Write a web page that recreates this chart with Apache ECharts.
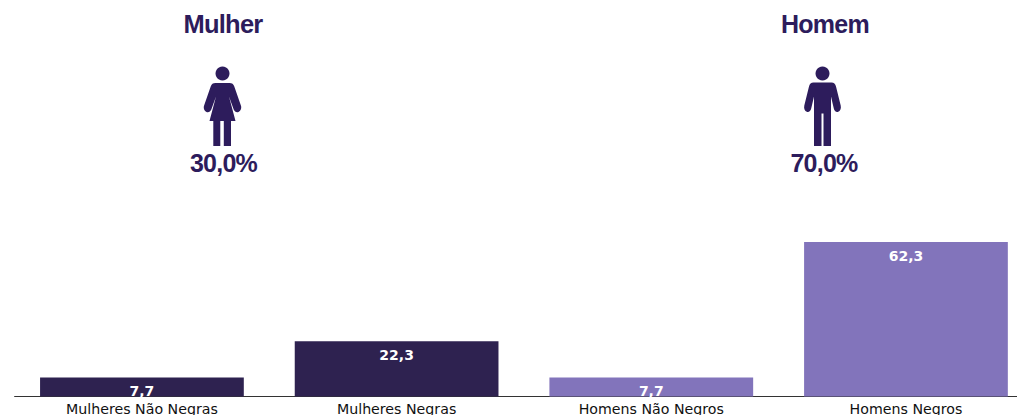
<!DOCTYPE html>
<html><head><meta charset="utf-8">
<style>html,body{margin:0;padding:0;background:#fff}#c{width:1017px;height:415px}
text[style*="Liberation"]{letter-spacing:-0.75px}</style>
<script src="https://cdn.jsdelivr.net/npm/echarts@6/dist/echarts.min.js"></script></head>
<body><div id="c"></div>
<script>
const categories = ['Mulheres Não Negras','Mulheres Negras','Homens Não Negros','Homens Negros'];
const values = [7.7,22.3,7.7,62.3];
const genderLabels = ['Mulher','Homem'];
const genderShares = ['30,0%','70,0%'];
const DARK='#2e2250', LIGHT='#8274bb', TXT='#2d1c5c';
const barColors=[DARK,DARK,LIGHT,LIGHT];
const womanPath='M19 0a7 7 0 1 0 0.01 0Z M12 16.5C9.5 16.5 8 17.5 7.2 20L0.6 39C-0.4 42 1 44.5 3 45.5C5 46.5 7 45 7.8 43L12.5 30L6 54.5H9.8V79.5H16.8V54.5H20.3V79.5H27.5V54.5H32L25.5 30L30.2 43C31 45 33 46.5 35 45.5C37 44.5 38.4 42 37.4 39L30.8 20C30 17.5 28.5 16.5 26 16.5Z';
const manPath='M18.5 0a7 7 0 1 0 0.01 0Z M9.5 16C7 16 5.7 17.5 5 20L0.3 39C-0.4 42 0.8 44.7 2.8 45.3C5 46 6.5 44.5 7.2 42L10 30V79.5H17.5V47H19.5V79.5H27V30L29.8 42C30.5 44.5 32 46 34.2 45.3C36.2 44.7 37.4 42 36.7 39L32 20C31.3 17.5 30 16 27.5 16Z';
echarts.graphic.registerShape('woman',echarts.graphic.extendPath(womanPath,{}));
echarts.graphic.registerShape('man',echarts.graphic.extendPath(manPath,{}));
const chart=echarts.init(document.getElementById('c'),null,{renderer:'svg'});
const bigText=(t,x,y,s)=>({type:'text',x,y,style:{text:t,fill:TXT,font:'bold '+s+'px "Liberation Sans"',textAlign:'center',textVerticalAlign:'middle'}});
chart.setOption({
  animation:false,
  grid:{left:14.6,width:1018.7,top:0,bottom:18.5,outerBoundsMode:'none'},
  xAxis:{type:'category',data:categories,axisLine:{lineStyle:{color:'#333',width:1}},
    axisTick:{alignWithLabel:true,length:3,lineStyle:{color:'#222'}},
    axisLabel:{color:'#111',fontFamily:'DejaVu Sans',fontSize:14.2,margin:5,interval:0}},
  yAxis:{type:'value',min:0,max:160,show:false,splitLine:{show:false}},
  series:[{type:'bar',barWidth:'80%',z:1,
    data:values.map((v,i)=>({value:v,itemStyle:{color:barColors[i]}})),
    label:{show:true,position:'insideTop',distance:7,color:'#fff',fontFamily:'DejaVu Sans',fontWeight:'bold',fontSize:14,
      formatter:p=>String(p.value).replace('.',',')}}],
  graphic:[
    bigText(genderLabels[0],223,23.5,25.5),
    bigText(genderLabels[1],825,23.5,25),
    bigText(genderShares[0],223.5,163,25),
    bigText(genderShares[1],824,163,25),
    {type:'woman',x:203.5,y:66.5,shape:{},style:{fill:TXT}},
    {type:'man',x:804,y:66.5,shape:{},style:{fill:TXT}}
  ]
});
</script></body></html>
